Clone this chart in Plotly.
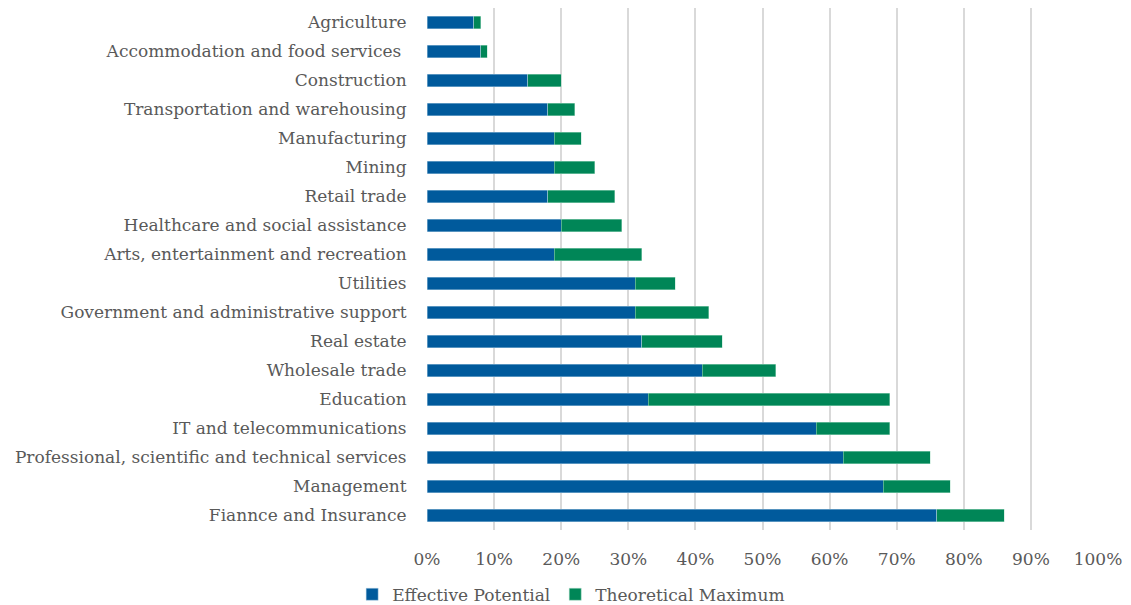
import plotly.graph_objects as go

categories = [
    "Agriculture",
    "Accommodation and food services ",
    "Construction",
    "Transportation and warehousing",
    "Manufacturing",
    "Mining",
    "Retail trade",
    "Healthcare and social assistance",
    "Arts, entertainment and recreation",
    "Utilities",
    "Government and administrative support",
    "Real estate",
    "Wholesale trade",
    "Education",
    "IT and telecommunications",
    "Professional, scientific and technical services",
    "Management",
    "Fiannce and Insurance",
]
effective = [7, 8, 15, 18, 19, 19, 18, 20, 19, 31, 31, 32, 41, 33, 58, 62, 68, 76]
theoretical_extra = [1, 1, 5, 4, 4, 6, 10, 9, 13, 6, 11, 12, 11, 36, 11, 13, 10, 10]
tick_vals = [0, 0.1, 0.2, 0.3, 0.4, 0.5, 0.6, 0.7, 0.8, 0.9, 1.0]

FONT = "DejaVu Serif"
GRAY = "#595959"

fig = go.Figure()
fig.add_trace(go.Bar(
    y=categories, x=[v / 100 for v in effective], orientation="h",
    name="Effective Potential", marker=dict(color="#005A9C", line=dict(color="rgba(180,210,230,0.6)", width=0.8)),
    width=0.42,
))
fig.add_trace(go.Bar(
    y=categories, x=[v / 100 for v in theoretical_extra], orientation="h",
    name="Theoretical Maximum", marker=dict(color="#008657", line=dict(color="rgba(180,225,205,0.6)", width=0.8)),
    width=0.42,
))

fig.update_layout(
    barmode="stack",
    width=1131, height=605,
    margin=dict(l=427, r=33, t=8, b=75),
    paper_bgcolor="white", plot_bgcolor="white",
    font=dict(family=FONT, color=GRAY, size=17),
    showlegend=True,
    legend=dict(orientation="h", xref="container", x=0.505, xanchor="center",
                yref="container", y=0.017, yanchor="middle",
                font=dict(family=FONT, size=17, color=GRAY), traceorder="normal",
                itemwidth=30),
    xaxis=dict(range=[0, 1.0], tickvals=tick_vals, tickformat=".0%",
               showgrid=True, gridcolor="#D9D9D9", gridwidth=1.5, zeroline=False,
               ticks="outside", ticklen=14, tickcolor="rgba(0,0,0,0)",
               showline=False, tickfont=dict(size=17, color=GRAY)),
    yaxis=dict(autorange="reversed", showgrid=False, ticks="outside", ticklen=16,
               tickcolor="rgba(0,0,0,0)", tickfont=dict(size=17, color=GRAY)),
)

fig.write_html("out.html")
